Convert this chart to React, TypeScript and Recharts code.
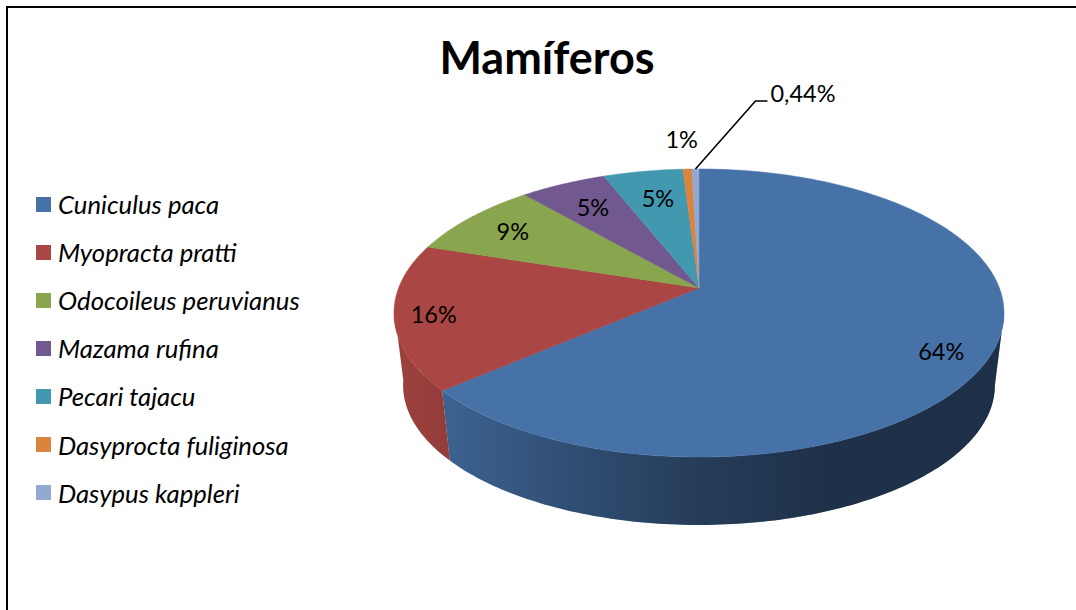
import React from "react";
import { Legend, Pie, PieChart } from "recharts";

const species = [
  "Cuniculus paca",
  "Myopracta pratti",
  "Odocoileus peruvianus",
  "Mazama rufina",
  "Pecari tajacu",
  "Dasyprocta fuliginosa",
  "Dasypus kappleri",
];
const shares = [63.7, 16.3, 8.6, 5.4, 5, 0.56, 0.44];
const shareLabels = ["64%", "16%", "9%", "5%", "5%", "1%", "0,44%"];
const colors = ["#4672a8", "#aa4643", "#89a54e", "#71588f", "#4198af", "#db843d", "#93a9cf"];

const tableData = species.map((name, i) => ({ name, value: shares[i], fill: colors[i] }));

const FONT = "Lato, 'Open Sans', sans-serif";

// perspective of the tilted disc
const TILT = 0.1736;
const SQUASH = 0.465;
const WALL_DROP = 73;
const WALL_SCALE = 0.97;
const WALL_FROM = 100;
const WALL_TO = 262;

// how far along apex -> rim each label sits, then a small nudge in pixels
const labelReach = [0.83, 0.87, 0.81, 0.78, 0.75, 1.24, 1];
const labelNudge = [
  [-2, 11],
  [0, 1],
  [-1, 0],
  [0, 0],
  [1, -3],
  [-3, -2],
  [0, 0],
];

function project(cx: number, cy: number, R: number, theta: number, wall = false) {
  const t = (theta * Math.PI) / 180;
  const X = Math.sin(t);
  const Y = -Math.cos(t);
  const w = 1 - TILT * Y;
  const s = wall ? WALL_SCALE : 1;
  return {
    x: cx + (s * R * X) / w,
    y: cy + (wall ? WALL_DROP : 0) + (s * R * SQUASH * Y) / w,
  };
}

function arcPoints(cx: number, cy: number, R: number, from: number, to: number, wall = false) {
  const pts = [];
  const n = Math.max(2, Math.ceil(Math.abs(to - from)));
  for (let i = 0; i <= n; i++) {
    pts.push(project(cx, cy, R, from + ((to - from) * i) / n, wall));
  }
  return pts;
}

const toPath = (pts: { x: number; y: number }[]) =>
  "M" + pts.map((p) => `${p.x.toFixed(2)},${p.y.toFixed(2)}`).join("L") + "Z";

function DiscSlice(props: any) {
  const { cx, cy, outerRadius: R, startAngle, endAngle, fill } = props;
  const from = 90 - startAngle;
  const to = 90 - endAngle;
  const top = [{ x: cx, y: cy }, ...arcPoints(cx, cy, R, from, to)];
  const a = Math.max(from, WALL_FROM);
  const b = Math.min(to, WALL_TO);
  const gradId = `wallShade-${String(fill).slice(1)}`;
  let wall = null;
  if (b > a) {
    const d = toPath([...arcPoints(cx, cy, R, a, b), ...arcPoints(cx, cy, R, b, a, true)]);
    wall = (
      <g>
        <defs>
          <linearGradient id={gradId} gradientUnits="userSpaceOnUse" x1={cx - 305} x2={cx + 305} y1={0} y2={0}>
            <stop offset="0.04" stopColor="#000" stopOpacity={0.1} />
            <stop offset="0.27" stopColor="#000" stopOpacity={0.3} />
            <stop offset="0.5" stopColor="#000" stopOpacity={0.47} />
            <stop offset="0.71" stopColor="#000" stopOpacity={0.57} />
            <stop offset="1" stopColor="#000" stopOpacity={0.58} />
          </linearGradient>
        </defs>
        <path d={d} fill={fill} />
        <path d={d} fill={`url(#${gradId})`} />
      </g>
    );
  }
  return (
    <g>
      {wall}
      <path d={toPath(top)} fill={fill} stroke={fill} strokeWidth={0.5} />
    </g>
  );
}

function SliceLabel(props: any) {
  const { cx, cy, outerRadius: R, midAngle, index } = props;
  const rim = project(cx, cy, R, 90 - midAngle);
  const k = labelReach[index];
  const x = cx + (rim.x - cx) * k + labelNudge[index][0];
  const y = cy + (rim.y - cy) * k + labelNudge[index][1];
  const textProps = { fill: "#000", fontFamily: FONT, fontSize: 23.5 };
  if (index === species.length - 1) {
    // the thin last slice gets a leader line
    const bend = { x: x + 60, y: y - 68 };
    return (
      <g>
        <polyline
          points={`${x},${y} ${bend.x},${bend.y} ${bend.x + 12},${bend.y}`}
          fill="none"
          stroke="#000"
          strokeWidth={1.6}
        />
        <text {...textProps} x={bend.x + 15} y={bend.y - 7.5} dominantBaseline="central" textAnchor="start">
          {shareLabels[index]}
        </text>
      </g>
    );
  }
  return (
    <text {...textProps} x={x} y={y} dominantBaseline="central" textAnchor="middle">
      {shareLabels[index]}
    </text>
  );
}

function SpeciesLegend({ payload }: any) {
  return (
    <div>
      {(payload || []).map((entry: any) => (
        <div key={entry.value} style={{ display: "flex", alignItems: "center", height: 48.1 }}>
          <span style={{ width: 15, height: 15, marginRight: 7, background: entry.color }} />
          <span style={{ fontFamily: FONT, fontStyle: "italic", fontSize: 25.7, color: "#000" }}>{entry.value}</span>
        </div>
      ))}
    </div>
  );
}

export default function App() {
  return (
    <div style={{ position: "absolute", left: 0, top: 0, width: 1076, height: 610, overflow: "hidden", background: "#fff" }}>
      <div
        style={{
          position: "absolute",
          left: 6,
          top: 6,
          right: -4,
          bottom: -4,
          borderTop: "2px solid #000",
          borderLeft: "2px solid #000",
        }}
      />
      <div
        style={{
          position: "absolute",
          left: 347,
          width: 400,
          top: 32,
          textAlign: "center",
          fontFamily: FONT,
          fontWeight: 700,
          fontSize: 45,
          lineHeight: "50px",
          color: "#000",
        }}
      >
        Mamíferos
      </div>
      <PieChart width={1076} height={610} margin={{ top: 0, right: 0, bottom: 0, left: 0 }} style={{ position: "absolute", left: 0, top: 0 }}>
        <Legend
          layout="vertical"
          align="center"
          verticalAlign="middle"
          itemSorter={null}
          content={<SpeciesLegend />}
          wrapperStyle={{ left: 36, top: 180, width: 290 }}
        />
        <Pie
          data={tableData}
          dataKey="value"
          nameKey="name"
          cx={699}
          cy={288}
          innerRadius={0}
          outerRadius={300.4}
          startAngle={90}
          endAngle={-270}
          stroke="none"
          isAnimationActive={false}
          shape={<DiscSlice />}
          label={SliceLabel}
          labelLine={false}
        />
      </PieChart>
    </div>
  );
}
